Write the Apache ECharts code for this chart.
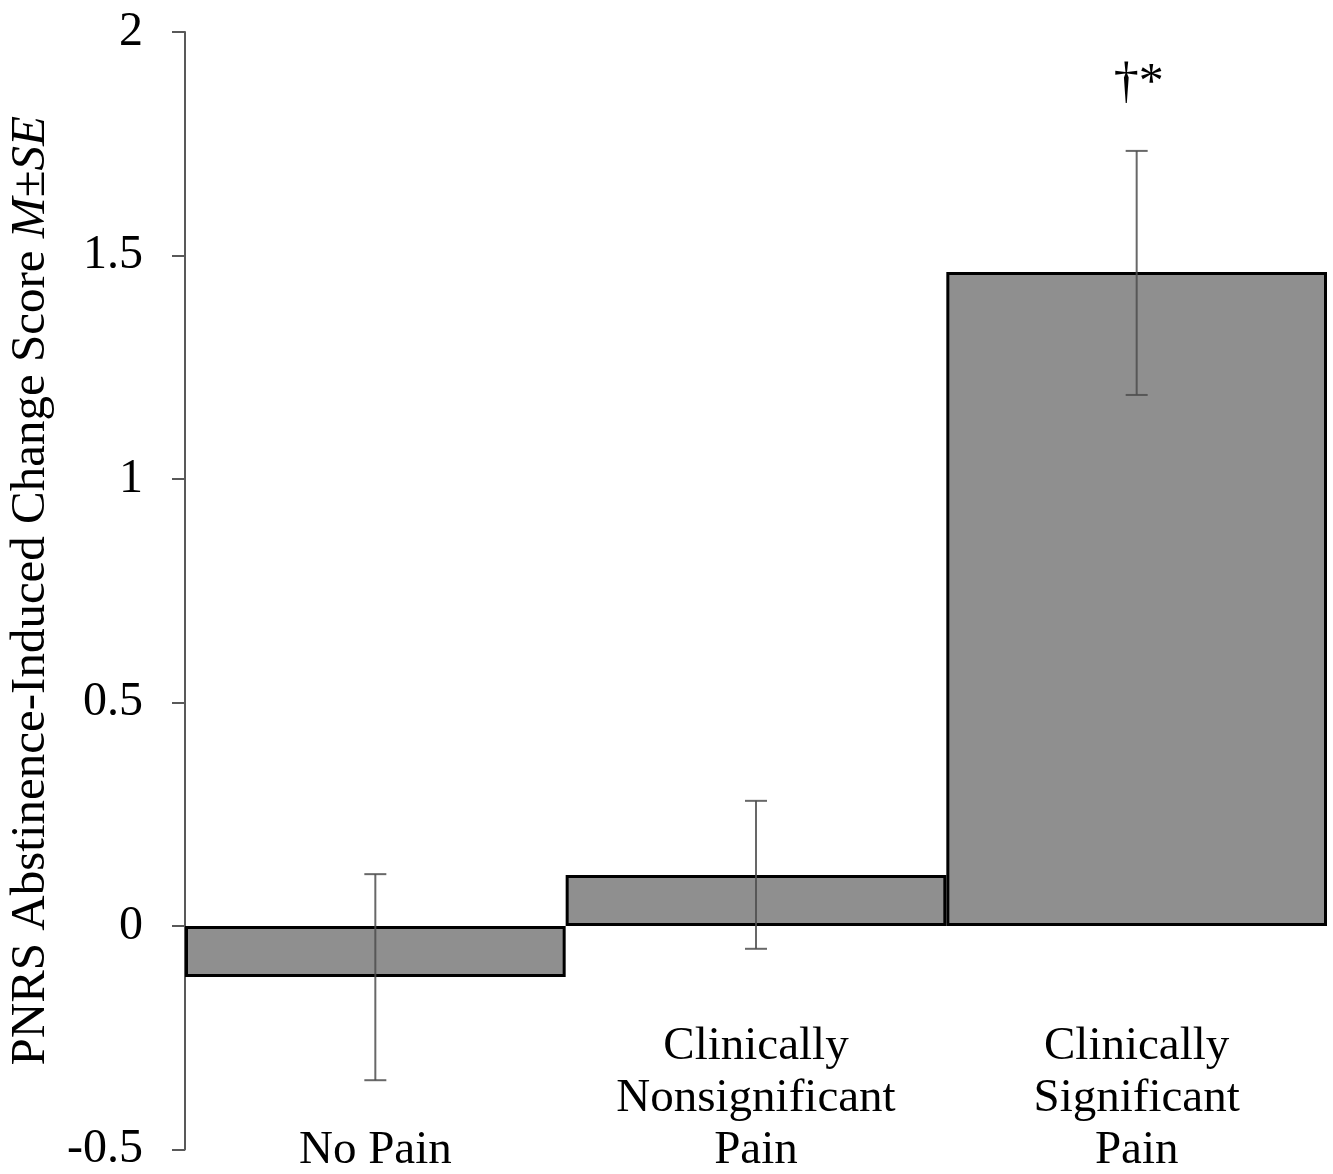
<!DOCTYPE html>
<html>
<head>
<meta charset="utf-8">
<script src="https://cdn.jsdelivr.net/npm/echarts@6/dist/echarts.min.js"></script>
<style>
  html, body { margin: 0; padding: 0; background: #fff; }
  #chart { width: 1333px; height: 1174px; }
</style>
</head>
<body>
<div id="chart"></div>
<script>
const categories = ['No Pain', 'Clinically\nNonsignificant\nPain', 'Clinically\nSignificant\nPain']
const means = [-0.114, 0.114, 1.463]
const seLow = [-0.345, -0.051, 1.188]
const seHigh = [0.116, 0.28, 1.734]
const marks = ['', '', '†*']
const yTicks = [-0.5, 0, 0.5, 1, 1.5, 2]

const font = 'Liberation Serif'
const chart = echarts.init(document.getElementById('chart'))

chart.setOption({
  backgroundColor: '#fff',
  animation: false,
  grid: { left: 185, right: 6, top: 32, bottom: 24.5, containLabel: false, outerBoundsMode: 'none' },
  xAxis: {
    type: 'category',
    data: categories,
    axisLine: { show: false, onZero: false },
    axisTick: { show: false },
    axisLabel: {
      margin: 27,
      verticalAlign: 'bottom',
      fontFamily: font,
      fontSize: 47,
      lineHeight: 52,
      color: '#000'
    }
  },
  yAxis: {
    type: 'value',
    min: yTicks[0],
    max: yTicks[yTicks.length - 1],
    interval: 0.5,
    splitLine: { show: false },
    axisLine: { show: true, lineStyle: { color: '#595959', width: 2 } },
    axisTick: { show: true, length: 13, lineStyle: { color: '#595959', width: 2 } },
    axisLabel: {
      margin: 42,
      fontFamily: font,
      fontSize: 48,
      color: '#000',
      formatter: v => String(v)
    },
    name: 'PNRS Abstinence-Induced Change Score {i|M}±{i|SE}',
    nameLocation: 'middle',
    nameRotate: 90,
    nameGap: 124,
    nameTextStyle: {
      fontFamily: font,
      fontSize: 49,
      color: '#000',
      rich: {
        i: { fontFamily: font, fontSize: 49, fontStyle: 'italic', color: '#000' }
      }
    }
  },
  series: [
    {
      type: 'bar',
      data: means,
      barCategoryGap: '0%',
      itemStyle: { color: '#8f8f8f', borderColor: '#000', borderWidth: 3 }
    },
    {
      type: 'custom',
      data: categories.map((c, i) => [i, seLow[i], seHigh[i]]),
      z: 5,
      renderItem: function (params, api) {
        const i = api.value(0)
        const lo = api.coord([i, api.value(1)])
        const hi = api.coord([i, api.value(2)])
        const cap = 11
        const style = { stroke: '#4d4d4d', lineWidth: 2, opacity: 0.85 }
        const children = [
          { type: 'line', shape: { x1: lo[0], y1: lo[1], x2: hi[0], y2: hi[1] }, style },
          { type: 'line', shape: { x1: hi[0] - cap, y1: hi[1], x2: hi[0] + cap, y2: hi[1] }, style },
          { type: 'line', shape: { x1: lo[0] - cap, y1: lo[1], x2: lo[0] + cap, y2: lo[1] }, style }
        ]
        if (marks[i]) {
          children.push({
            type: 'text',
            x: hi[0] + 2,
            y: hi[1] - 42,
            style: {
              text: marks[i],
              fontFamily: font,
              fontSize: 50,
              fill: '#000',
              align: 'center',
              verticalAlign: 'bottom'
            }
          })
        }
        return { type: 'group', children }
      }
    }
  ]
})
</script>
</body>
</html>
